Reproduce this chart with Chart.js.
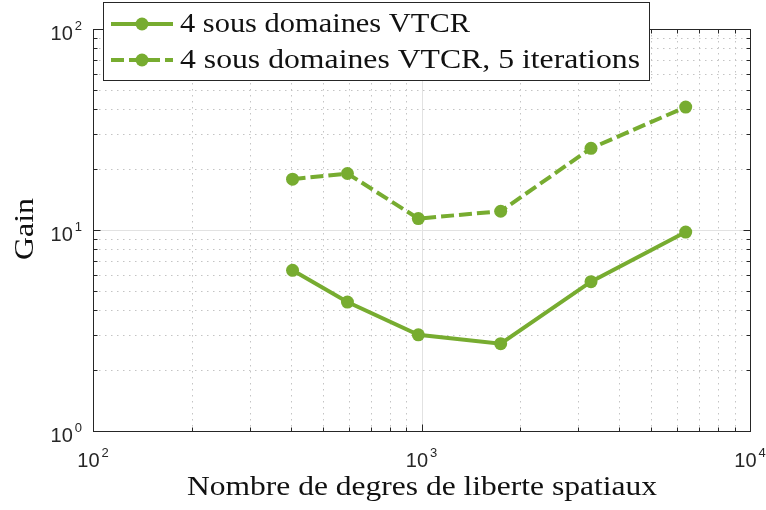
<!DOCTYPE html>
<html>
<head>
<meta charset="utf-8">
<script src="https://cdn.jsdelivr.net/npm/chart.js@4.4.1/dist/chart.umd.min.js"></script>
<style>
  html, body { margin: 0; padding: 0; background: #fff; }
  #wrap { width: 766px; height: 510px; }
</style>
</head>
<body>
<div id="wrap"><canvas id="gain-chart"></canvas></div>
<script>
// degrees of freedom (x) and measured gain for both runs
const dofs = [405, 595, 978, 1742, 3281, 6372];
const gainVtcr = [6.30, 4.38, 3.01, 2.72, 5.53, 9.77];
const gainVtcr5 = [17.9, 19.1, 11.4, 12.4, 25.5, 40.9];
const seriesLabels = ['4 sous domaines VTCR', '4 sous domaines VTCR, 5 iterations'];
const xDecades = [100, 1000, 10000];
const yDecades = [1, 10, 100];
const xTitle = 'Nombre de degres de liberte spatiaux';
const yTitle = 'Gain';

const green = '#77ac30';
const axisColor = '#262626';
const serif = '"Liberation Serif", "DejaVu Serif", serif';
const sans = '"Liberation Sans", Arial, sans-serif';
const dash = [13, 5];

const toPoints = (ys) => dofs.map((x, i) => ({ x, y: ys[i] }));

const minorValues = (decades) => {
    const out = [];
    for (let i = 0; i < decades.length - 1; i++) {
        for (let m = 2; m <= 9; m++) out.push(decades[i] * m);
    }
    return out;
};

const seg = (ctx, x1, y1, x2, y2) => {
    ctx.beginPath();
    ctx.moveTo(x1, y1);
    ctx.lineTo(x2, y2);
    ctx.stroke();
};

// draws text squeezed/stretched to a given width
const fitText = (ctx, text, x, y, width) => {
    const w = ctx.measureText(text).width;
    ctx.save();
    ctx.translate(x, y);
    ctx.scale(width / w, 1);
    ctx.fillText(text, 0, 0);
    ctx.restore();
};

const powerLabel = (ctx, exp, x, y, align) => {
    ctx.font = '20px ' + sans;
    const base = ctx.measureText('10').width;
    ctx.font = '13px ' + sans;
    const sup = ctx.measureText(String(exp)).width;
    let left = x;
    if (align === 'right') left = x - base - sup - 2;
    if (align === 'center') left = x - (base + sup + 2) / 2;
    ctx.textAlign = 'left';
    ctx.textBaseline = 'alphabetic';
    ctx.font = '20px ' + sans;
    ctx.fillText('10', left, y);
    ctx.font = '13px ' + sans;
    ctx.fillText(String(exp), left + base + 2, y - 10);
};

const matlabAxes = {
    id: 'matlabAxes',
    beforeDatasetsDraw(chart) {
        const { ctx, chartArea: a, scales: { x, y } } = chart;
        ctx.save();
        ctx.lineWidth = 1;
        ctx.strokeStyle = '#c4c4c4';
        ctx.setLineDash([1.5, 4.5]);
        minorValues(xDecades).forEach((v) => {
            const px = Math.round(x.getPixelForValue(v)) + 0.5;
            seg(ctx, px, a.top, px, a.bottom);
        });
        minorValues(yDecades).forEach((v) => {
            const py = Math.round(y.getPixelForValue(v)) + 0.5;
            seg(ctx, a.left, py, a.right, py);
        });
        ctx.setLineDash([]);
        ctx.strokeStyle = '#e2e2e2';
        xDecades.slice(1, -1).forEach((v) => {
            const px = Math.round(x.getPixelForValue(v)) + 0.5;
            seg(ctx, px, a.top, px, a.bottom);
        });
        yDecades.slice(1, -1).forEach((v) => {
            const py = Math.round(y.getPixelForValue(v)) + 0.5;
            seg(ctx, a.left, py, a.right, py);
        });
        ctx.restore();
    },
    afterDatasetsDraw(chart) {
        const { ctx, chartArea: a, scales: { x, y } } = chart;
        ctx.save();
        ctx.strokeStyle = axisColor;
        ctx.lineWidth = 1;
        const L = Math.round(a.left) + 0.5, R = Math.round(a.right) + 0.5;
        const T = Math.round(a.top) + 0.5, B = Math.round(a.bottom) + 0.5;
        ctx.strokeRect(L, T, R - L, B - T);

        // inward ticks on all four sides
        const tickX = (v, len) => {
            const px = Math.round(x.getPixelForValue(v)) + 0.5;
            seg(ctx, px, B, px, B - len);
            seg(ctx, px, T, px, T + len);
        };
        const tickY = (v, len) => {
            const py = Math.round(y.getPixelForValue(v)) + 0.5;
            seg(ctx, L, py, L + len, py);
            seg(ctx, R, py, R - len, py);
        };
        xDecades.forEach((v) => tickX(v, 7));
        minorValues(xDecades).forEach((v) => tickX(v, 4));
        yDecades.forEach((v) => tickY(v, 7));
        minorValues(yDecades).forEach((v) => tickY(v, 4));

        // tick labels 10^k
        ctx.fillStyle = axisColor;
        xDecades.forEach((v) => powerLabel(ctx, Math.round(Math.log10(v)), x.getPixelForValue(v), a.bottom + 36, 'center'));
        yDecades.forEach((v) => powerLabel(ctx, Math.round(Math.log10(v)), a.left - 11, y.getPixelForValue(v) + 11, 'right'));

        // axis titles
        ctx.fillStyle = '#111';
        ctx.font = '28px ' + serif;
        ctx.textBaseline = 'alphabetic';
        ctx.textAlign = 'left';
        fitText(ctx, xTitle, 187, 495, 470);
        ctx.save();
        ctx.translate(33, 260);
        ctx.rotate(-Math.PI / 2);
        fitText(ctx, yTitle, 0, 0, 62);
        ctx.restore();

        // legend box
        const bx = 103.5, by = 2.5, bw = 546, bh = 78;
        ctx.fillStyle = '#fff';
        ctx.fillRect(bx, by, bw, bh);
        ctx.strokeStyle = axisColor;
        ctx.strokeRect(bx, by, bw, bh);
        const rows = [24, 60];
        const widths = [290, 460];
        chart.data.datasets.forEach((ds, i) => {
            const ly = rows[i];
            ctx.strokeStyle = ds.borderColor;
            ctx.lineWidth = ds.borderWidth;
            ctx.setLineDash(ds.borderDash || []);
            seg(ctx, 111, ly, 173, ly);
            ctx.setLineDash([]);
            ctx.fillStyle = ds.pointBackgroundColor;
            ctx.beginPath();
            ctx.arc(142, ly, ds.pointRadius, 0, Math.PI * 2);
            ctx.fill();
            ctx.fillStyle = '#111';
            ctx.font = '27px ' + serif;
            fitText(ctx, ds.label, 180, ly + 8, widths[i]);
        });
        ctx.restore();
    }
};

new Chart(document.getElementById('gain-chart'), {
    type: 'line',
    data: {
        datasets: [
            {
                label: seriesLabels[0],
                data: toPoints(gainVtcr),
                borderColor: green,
                backgroundColor: green,
                pointBackgroundColor: green,
                borderWidth: 4,
                pointRadius: 6.5,
                pointBorderWidth: 0,
            },
            {
                label: seriesLabels[1],
                data: toPoints(gainVtcr5),
                borderColor: green,
                backgroundColor: green,
                pointBackgroundColor: green,
                borderWidth: 4,
                borderDash: dash,
                pointRadius: 6.5,
                pointBorderWidth: 0,
            },
        ],
    },
    options: {
        responsive: true,
        maintainAspectRatio: false,
        animation: false,
        layout: { padding: { left: 93, right: 16, top: 29, bottom: 79 } },
        plugins: { legend: { display: false }, tooltip: { enabled: false } },
        scales: {
            x: { type: 'logarithmic', min: 100, max: 10000, display: false },
            y: { type: 'logarithmic', min: 1, max: 100, display: false },
        },
    },
    plugins: [matlabAxes],
});
</script>
</body>
</html>
